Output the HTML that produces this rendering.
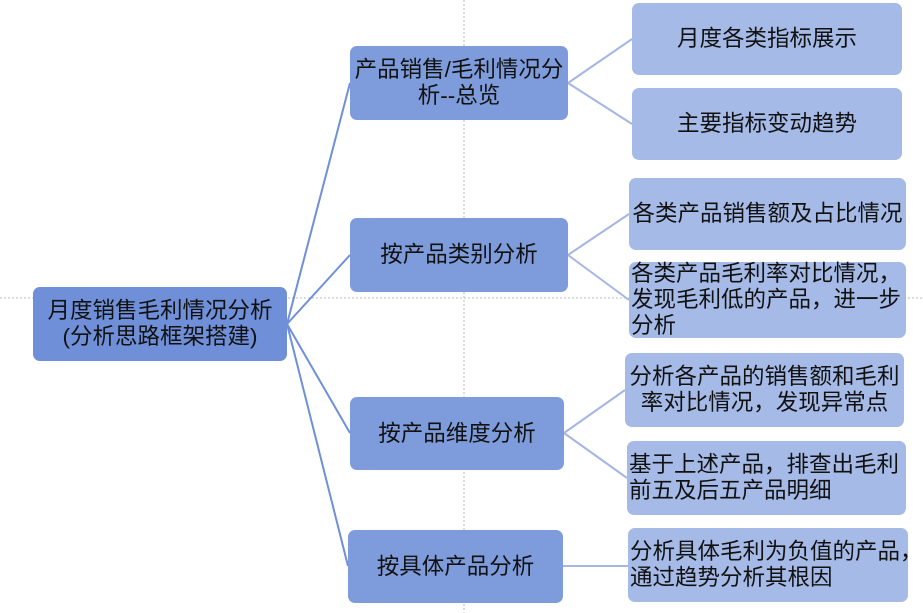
<!DOCTYPE html>
<html><head><meta charset="utf-8"><style>
body{margin:0;width:923px;height:613px;background:#fff;position:relative;overflow:hidden;font-family:"Liberation Sans","Noto Sans CJK SC",sans-serif;}
.b{position:absolute;box-sizing:border-box;border-radius:7px;display:flex;align-items:center;justify-content:center;text-align:center;font-size:22.5px;line-height:26px;color:#111;white-space:nowrap;}
.r{background:#6f8fd8;}
.l1{background:#7e9cdb;}
.l2{background:#a5bae6;}
.left{justify-content:flex-start;text-align:left;padding-left:2px;}
svg{position:absolute;left:0;top:0;}
</style></head><body>
<svg width="923" height="613">
<line x1="464" y1="0" x2="464" y2="613" stroke="#bbb" stroke-dasharray="2,2"/>
<line x1="0" y1="298" x2="923" y2="298" stroke="#bbb" stroke-dasharray="2,2"/>
<g stroke="#6f8fd8" stroke-width="2" fill="none">
<line x1="287" y1="324" x2="350" y2="83"/>
<line x1="287" y1="324" x2="350" y2="255"/>
<line x1="287" y1="324" x2="350" y2="433"/>
<line x1="287" y1="324" x2="348" y2="566"/>
</g>
<g stroke="#a5b6e3" stroke-width="2" fill="none">
<line x1="568" y1="83" x2="632" y2="39"/>
<line x1="568" y1="83" x2="632" y2="124"/>
<line x1="568" y1="255" x2="629" y2="214"/>
<line x1="568" y1="255" x2="629" y2="300"/>
<line x1="564" y1="433" x2="625" y2="390"/>
<line x1="564" y1="433" x2="627" y2="478"/>
<line x1="563" y1="566" x2="628" y2="566"/>
</g>
</svg>
<div class="b r" style="left:33px;top:287px;width:254px;height:74px;">月度销售毛利情况分析<br>(分析思路框架搭建)</div>
<div class="b l1" style="left:350px;top:46px;width:218px;height:74px;">产品销售/毛利情况分<br>析--总览</div>
<div class="b l1" style="left:350px;top:218px;width:218px;height:74px;">按产品类别分析</div>
<div class="b l1" style="left:350px;top:397px;width:214px;height:73px;">按产品维度分析</div>
<div class="b l1" style="left:348px;top:530px;width:215px;height:73px;">按具体产品分析</div>
<div class="b l2" style="left:632px;top:3px;width:270px;height:72px;">月度各类指标展示</div>
<div class="b l2" style="left:632px;top:88px;width:270px;height:72px;">主要指标变动趋势</div>
<div class="b l2" style="left:629px;top:178px;width:277px;height:72px;">各类产品销售额及占比情况</div>
<div class="b l2 left" style="left:629px;top:262px;width:277px;height:76px;">各类产品毛利率对比情况，<br>发现毛利低的产品，进一步<br>分析</div>
<div class="b l2" style="left:625px;top:353px;width:279px;height:74px;">分析各产品的销售额和毛利<br>率对比情况，发现异常点</div>
<div class="b l2 left" style="left:627px;top:441px;width:279px;height:74px;">基于上述产品，排查出毛利<br>前五及后五产品明细</div>
<div class="b l2 left" style="left:628px;top:528px;width:280px;height:74px;">分析具体毛利为负值的产品，<br>通过趋势分析其根因</div>
</body></html>
